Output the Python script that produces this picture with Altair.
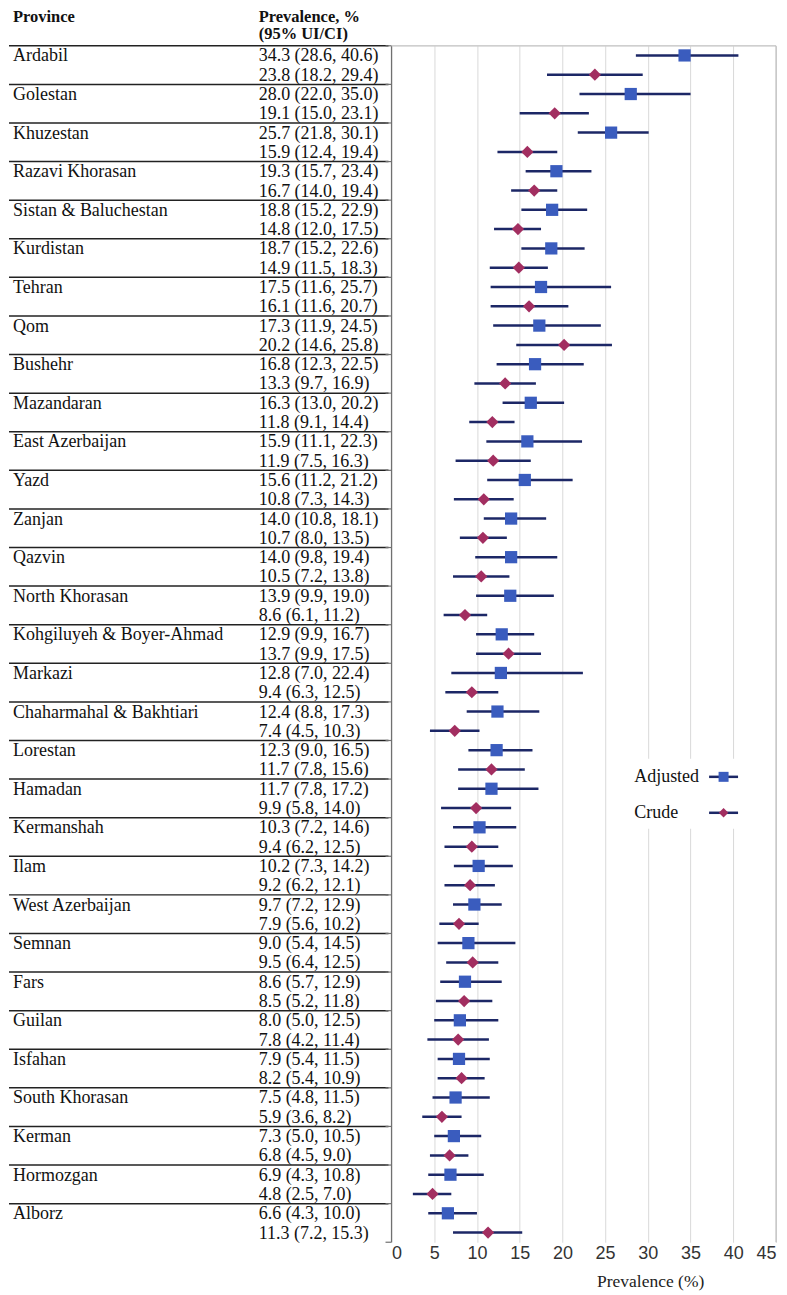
import altair as alt
import pandas as pd

provinces = ["Ardabil", "Golestan", "Khuzestan", "Razavi Khorasan", "Sistan & Baluchestan",
             "Kurdistan", "Tehran", "Qom", "Bushehr", "Mazandaran", "East Azerbaijan", "Yazd",
             "Zanjan", "Qazvin", "North Khorasan", "Kohgiluyeh & Boyer-Ahmad", "Markazi",
             "Chaharmahal & Bakhtiari", "Lorestan", "Hamadan", "Kermanshah", "Ilam",
             "West Azerbaijan", "Semnan", "Fars", "Guilan", "Isfahan", "South Khorasan",
             "Kerman", "Hormozgan", "Alborz"]
adj_est = [34.3, 28.0, 25.7, 19.3, 18.8, 18.7, 17.5, 17.3, 16.8, 16.3, 15.9, 15.6, 14.0, 14.0,
           13.9, 12.9, 12.8, 12.4, 12.3, 11.7, 10.3, 10.2, 9.7, 9.0, 8.6, 8.0, 7.9, 7.5, 7.3, 6.9, 6.6]
adj_lo = [28.6, 22.0, 21.8, 15.7, 15.2, 15.2, 11.6, 11.9, 12.3, 13.0, 11.1, 11.2, 10.8, 9.8,
          9.9, 9.9, 7.0, 8.8, 9.0, 7.8, 7.2, 7.3, 7.2, 5.4, 5.7, 5.0, 5.4, 4.8, 5.0, 4.3, 4.3]
adj_hi = [40.6, 35.0, 30.1, 23.4, 22.9, 22.6, 25.7, 24.5, 22.5, 20.2, 22.3, 21.2, 18.1, 19.4,
          19.0, 16.7, 22.4, 17.3, 16.5, 17.2, 14.6, 14.2, 12.9, 14.5, 12.9, 12.5, 11.5, 11.5, 10.5, 10.8, 10.0]
crude_est = [23.8, 19.1, 15.9, 16.7, 14.8, 14.9, 16.1, 20.2, 13.3, 11.8, 11.9, 10.8, 10.7, 10.5,
             8.6, 13.7, 9.4, 7.4, 11.7, 9.9, 9.4, 9.2, 7.9, 9.5, 8.5, 7.8, 8.2, 5.9, 6.8, 4.8, 11.3]
crude_lo = [18.2, 15.0, 12.4, 14.0, 12.0, 11.5, 11.6, 14.6, 9.7, 9.1, 7.5, 7.3, 8.0, 7.2,
            6.1, 9.9, 6.3, 4.5, 7.8, 5.8, 6.2, 6.2, 5.6, 6.4, 5.2, 4.2, 5.4, 3.6, 4.5, 2.5, 7.2]
crude_hi = [29.4, 23.1, 19.4, 19.4, 17.5, 18.3, 20.7, 25.8, 16.9, 14.4, 16.3, 14.3, 13.5, 13.8,
            11.2, 17.5, 12.5, 10.3, 15.6, 14.0, 12.5, 12.1, 10.2, 12.5, 11.8, 11.4, 10.9, 8.2, 9.0, 7.0, 15.3]
series = ["Adjusted", "Crude"]
x_ticks = [0, 5, 10, 15, 20, 25, 30, 35, 40, 45]

W, H = 768, 1198
X0 = 383
N = 2 * len(provinces)
BLUE = "#3A5CBE"
RED = "#A22E60"
NAVY = "#1C2766"
SERIF = "Liberation Serif"
TXT = 18

recs = []
for i, p in enumerate(provinces):
    recs.append(dict(row=2 * i + 0.5, kind=series[0], est=adj_est[i], lo=adj_lo[i], hi=adj_hi[i]))
    recs.append(dict(row=2 * i + 1.5, kind=series[1], est=crude_est[i], lo=crude_lo[i], hi=crude_hi[i]))
df = pd.DataFrame(recs)
df["label"] = [f"{e:.1f} ({l:.1f}, {h:.1f})" for e, l, h in zip(df.est, df.lo, df.hi)]

names = pd.DataFrame({"province": provinces, "row": [2 * i + 0.5 for i in range(len(provinces))]})
bounds = pd.DataFrame({"b": list(range(0, N + 1, 2))})
table_bounds = pd.DataFrame({"b": list(range(0, N - 1, 2))})

yscale = alt.Scale(domain=[0, N], reverse=True)
xscale = alt.Scale(domain=[0, 45], range=[X0, W], nice=False, zero=False)
xaxis = alt.Axis(values=x_ticks, grid=True, gridColor="#d9d9d9", gridWidth=1, domain=False,
                 ticks=False, labelFont="Liberation Sans Narrow, Liberation Sans, sans-serif",
                 labelFontSize=18, labelColor="#333333", labelPadding=2,
                 title="Prevalence (%)", titleFont=SERIF, titleFontSize=17.5, titleFontWeight="normal",
                 titleColor="#222222", titleX=642, titleY=30, titleAlign="center")

base = alt.Chart(df)

errs = base.mark_rule(color=NAVY, strokeWidth=2.5).encode(
    x=alt.X("lo:Q", scale=xscale, axis=xaxis),
    x2="hi:Q",
    y=alt.Y("row:Q", scale=yscale, axis=None),
)
pts = base.mark_point(filled=True, opacity=1, size=150).encode(
    x=alt.X("est:Q", scale=xscale, axis=xaxis),
    y=alt.Y("row:Q", scale=yscale, axis=None),
    color=alt.Color("kind:N", scale=alt.Scale(domain=series, range=[BLUE, RED]), legend=None),
    shape=alt.Shape("kind:N", scale=alt.Scale(domain=series, range=["square", "diamond"]), legend=None),
)
vals = base.mark_text(align="left", baseline="middle", font=SERIF, fontSize=TXT, dy=1,
                      color="#111111").encode(
    x=alt.value(250),
    y=alt.Y("row:Q", scale=yscale, axis=None),
    text="label:N",
)
name_txt = alt.Chart(names).mark_text(align="left", baseline="middle", font=SERIF, fontSize=TXT, dy=1,
                                      color="#111111").encode(
    x=alt.value(4),
    y=alt.Y("row:Q", scale=yscale, axis=None),
    text="province:N",
)
table_lines = alt.Chart(table_bounds).mark_rule(color="#222222", strokeWidth=1.5).encode(
    x=alt.value(0), x2=alt.value(380),
    y=alt.Y("b:Q", scale=yscale, axis=None),
)
ticks = alt.Chart(bounds).mark_rule(color="#707070", strokeWidth=1.2).encode(
    x=alt.value(X0 - 6), x2=alt.value(X0),
    y=alt.Y("b:Q", scale=yscale, axis=None),
)
dummy = pd.DataFrame({"a": [0]})
left_axis = alt.Chart(dummy).mark_rule(color="#707070", strokeWidth=1.2).encode(
    x=alt.value(X0), y=alt.value(0), y2=alt.value(H))
top_border = alt.Chart(dummy).mark_rule(color="#bfbfbf", strokeWidth=1.2).encode(
    x=alt.value(X0), x2=alt.value(W), y=alt.value(0))
right_border = alt.Chart(dummy).mark_rule(color="#bfbfbf", strokeWidth=1.2).encode(
    x=alt.value(W), y=alt.value(0), y2=alt.value(H))

hdr_style = dict(align="left", baseline="middle", font=SERIF, fontSize=16.5, fontWeight="bold", color="#111111")
h1 = alt.Chart(dummy).mark_text(text="Province", **hdr_style).encode(x=alt.value(4), y=alt.value(-29))
h2 = alt.Chart(dummy).mark_text(text="Prevalence, %", **hdr_style).encode(x=alt.value(250), y=alt.value(-29))
h3 = alt.Chart(dummy).mark_text(text="(95% UI/CI)", **hdr_style).encode(x=alt.value(250), y=alt.value(-12))

# legend
leg_bg = alt.Chart(dummy).mark_rect(fill="white").encode(
    x=alt.value(607), x2=alt.value(762), y=alt.value(714), y2=alt.value(784))
leg_items = []
for lab, yy, shp, col, sz in [(series[0], 732, "square", BLUE, 100), (series[1], 768, "diamond", RED, 90)]:
    leg_items.append(alt.Chart(dummy).mark_text(text=lab, align="left", baseline="middle", font=SERIF,
                                                fontSize=18, color="#111111").encode(
        x=alt.value(626), y=alt.value(yy)))
    leg_items.append(alt.Chart(dummy).mark_rule(color=NAVY, strokeWidth=2.5).encode(
        x=alt.value(701), x2=alt.value(730), y=alt.value(yy)))
    leg_items.append(alt.Chart(dummy).mark_point(shape=shp, filled=True, opacity=1, color=col, size=sz).encode(
        x=alt.value(715.5), y=alt.value(yy)))

chart = alt.layer(
    errs, pts, table_lines, ticks, left_axis, top_border, right_border,
    vals, name_txt, h1, h2, h3, leg_bg, *leg_items
).properties(
    width=W, height=H, padding={"left": 0, "top": 0, "right": 2, "bottom": 0}, background="white"
).configure_view(stroke=None)

chart.save("out.html", embed_options={"renderer": "svg", "actions": False})
